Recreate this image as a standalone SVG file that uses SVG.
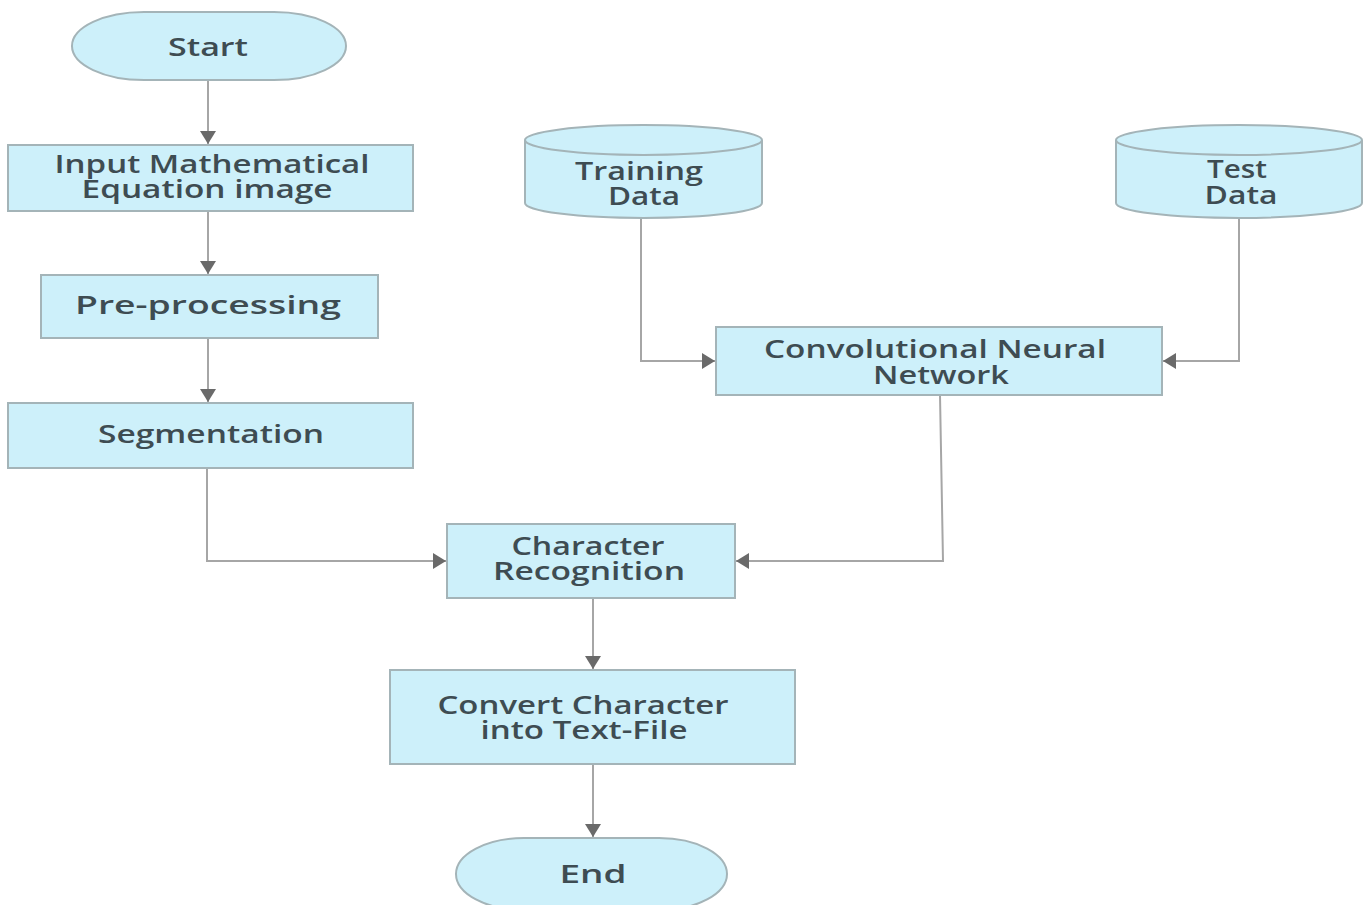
<svg xmlns="http://www.w3.org/2000/svg" width="1371" height="905" viewBox="0 0 1371 905">
<style>
.n{fill:#cdf0fa;stroke:#a4b4b8;stroke-width:2}
.t{font-family:"Open Sans","Liberation Sans",sans-serif;font-size:25px;font-weight:600;fill:#3e4c52;text-anchor:middle}
.c{fill:none;stroke:#a6a6a6;stroke-width:2}
</style>
<defs>
<marker id="ah" viewBox="0 0 13 16" refX="13" refY="8" markerWidth="13" markerHeight="16" markerUnits="userSpaceOnUse" orient="auto">
<path d="M0,0 L13,8 L0,16 Z" fill="#6a6a6a"/>
</marker>
</defs>
<rect width="1371" height="905" fill="#ffffff"/>
<g id="connectors">
<line class="c" x1="208" y1="80" x2="208" y2="144" marker-end="url(#ah)"/>
<line class="c" x1="208" y1="211" x2="208" y2="274" marker-end="url(#ah)"/>
<line class="c" x1="208" y1="338" x2="208" y2="402" marker-end="url(#ah)"/>
<path class="c" d="M207,468 V561 H446" marker-end="url(#ah)"/>
<path class="c" d="M641,218 V361 H715" marker-end="url(#ah)"/>
<path class="c" d="M1239,218 V361 H1163" marker-end="url(#ah)"/>
<path class="c" d="M940,395 L943,561 H736" marker-end="url(#ah)"/>
<line class="c" x1="593" y1="598" x2="593" y2="669" marker-end="url(#ah)"/>
<line class="c" x1="593" y1="764" x2="593" y2="837" marker-end="url(#ah)"/>
</g>
<g id="start">
<rect class="n" x="72" y="12" width="274" height="68" rx="72" ry="34"/>
<text class="t" x="208" y="56" textLength="80" lengthAdjust="spacingAndGlyphs">Start</text>
</g>
<g id="input">
<rect class="n" x="8" y="145" width="405" height="66"/>
<text class="t" x="212" y="173" textLength="315" lengthAdjust="spacingAndGlyphs">Input Mathematical</text>
<text class="t" x="207" y="198" textLength="251" lengthAdjust="spacingAndGlyphs">Equation image</text>
</g>
<g id="preprocessing">
<rect class="n" x="41" y="275" width="337" height="63"/>
<text class="t" x="208" y="314" textLength="266" lengthAdjust="spacingAndGlyphs">Pre-processing</text>
</g>
<g id="segmentation">
<rect class="n" x="8" y="403" width="405" height="65"/>
<text class="t" x="211" y="443" textLength="226" lengthAdjust="spacingAndGlyphs">Segmentation</text>
</g>
<g id="training">
<path class="n" d="M525,140 A118.5,15 0 0 1 762,140 V203 A118.5,15 0 0 1 525,203 Z"/>
<path class="n" d="M525,140 A118.5,15 0 0 0 762,140" fill="none"/>
<text class="t" x="639" y="180" textLength="128" lengthAdjust="spacingAndGlyphs">Training</text>
<text class="t" x="644" y="205" textLength="72" lengthAdjust="spacingAndGlyphs">Data</text>
</g>
<g id="test">
<path class="n" d="M1116,140 A123,15 0 0 1 1362,140 V203 A123,15 0 0 1 1116,203 Z"/>
<path class="n" d="M1116,140 A123,15 0 0 0 1362,140" fill="none"/>
<text class="t" x="1237" y="178" textLength="60" lengthAdjust="spacingAndGlyphs">Test</text>
<text class="t" x="1241" y="204" textLength="73" lengthAdjust="spacingAndGlyphs">Data</text>
</g>
<g id="cnn">
<rect class="n" x="716" y="327" width="446" height="68"/>
<text class="t" x="935" y="358" textLength="342" lengthAdjust="spacingAndGlyphs">Convolutional Neural</text>
<text class="t" x="941" y="384" textLength="136" lengthAdjust="spacingAndGlyphs">Network</text>
</g>
<g id="recognition">
<rect class="n" x="447" y="524" width="288" height="74"/>
<text class="t" x="588" y="555" textLength="153" lengthAdjust="spacingAndGlyphs">Character</text>
<text class="t" x="589" y="580" textLength="192" lengthAdjust="spacingAndGlyphs">Recognition</text>
</g>
<g id="convert">
<rect class="n" x="390" y="670" width="405" height="94"/>
<text class="t" x="583" y="714" textLength="291" lengthAdjust="spacingAndGlyphs">Convert Character</text>
<text class="t" x="584" y="739" textLength="207" lengthAdjust="spacingAndGlyphs">into Text-File</text>
</g>
<g id="end">
<rect class="n" x="456" y="838" width="271" height="72" rx="68" ry="36"/>
<text class="t" x="593" y="883" textLength="67" lengthAdjust="spacingAndGlyphs">End</text>
</g>
</svg>
